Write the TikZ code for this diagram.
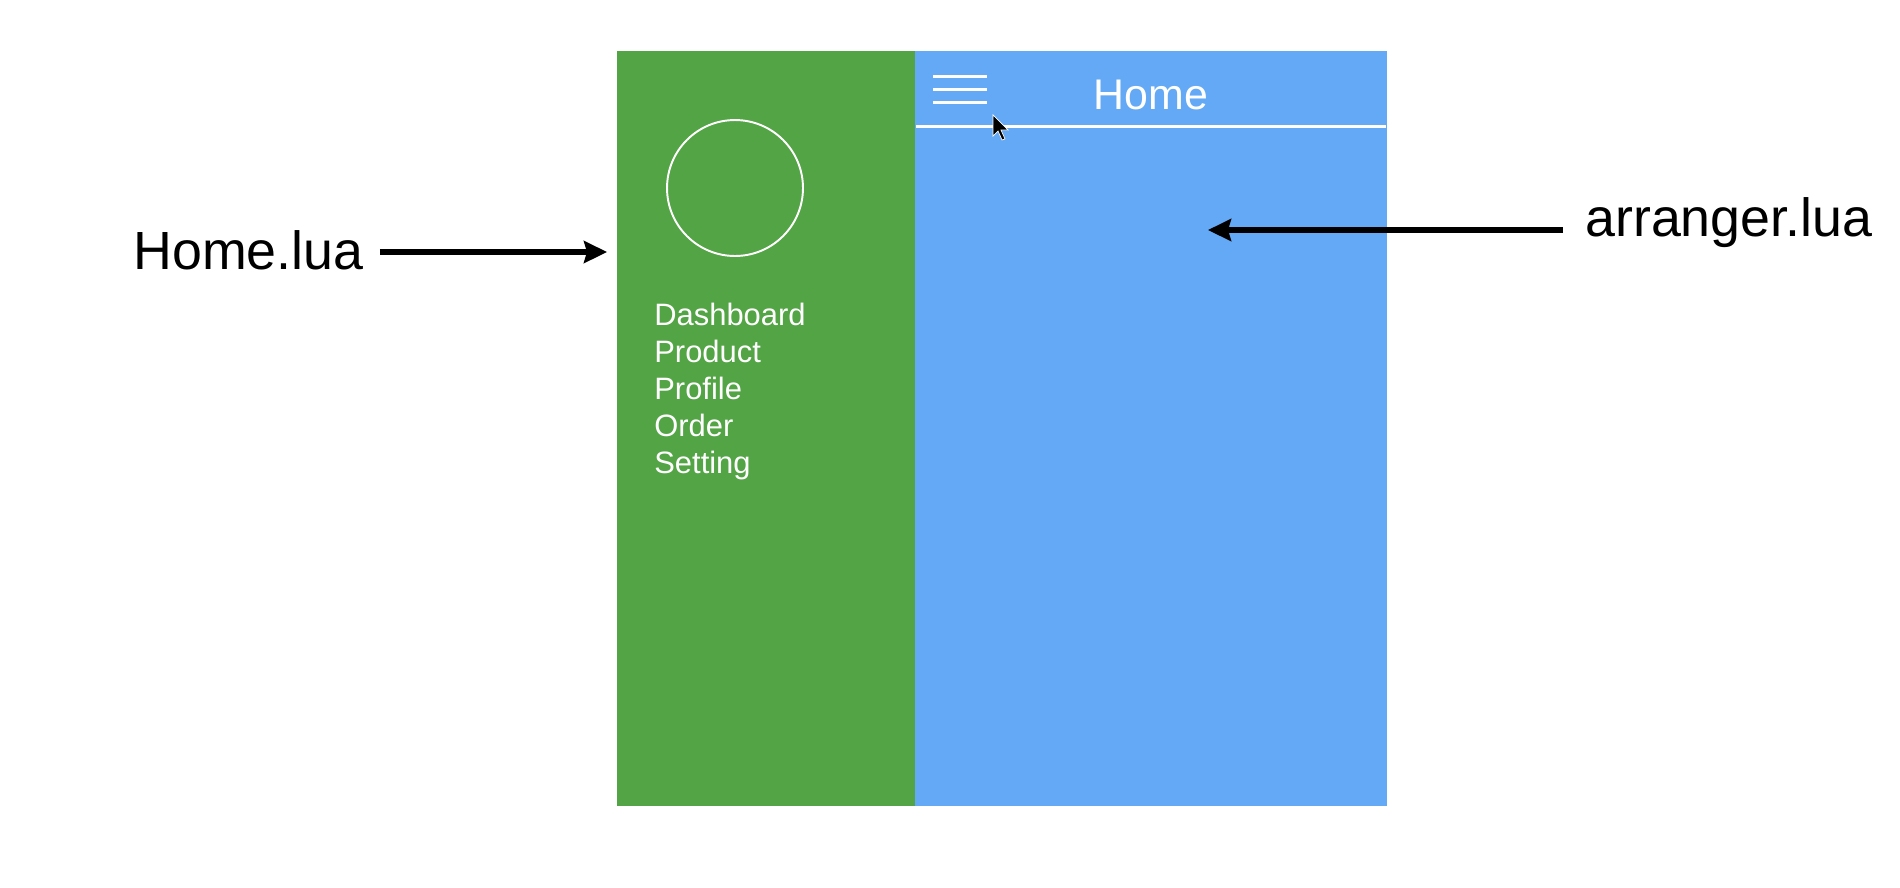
\documentclass[tikz,border=0pt]{standalone}
\usepackage{fontspec}
\setmainfont{Liberation Sans}
\usetikzlibrary{arrows.meta}
\definecolor{drawergreen}{HTML}{53A445}
\definecolor{screenblue}{HTML}{63A9F5}

\begin{document}
\begin{tikzpicture}[x=0.02cm, y=-0.02cm,
        panel/.style={rectangle, draw=none, inner sep=0, outer sep=0, minimum height=15.1cm},
        filelabel/.style={inner sep=0, font=\fontsize{30.6}{36}\selectfont},
        menuitem/.style={inner sep=0, anchor=base west, text=white, font=\fontsize{17.6}{21}\selectfont},
        bar/.style={white, line width=1.7pt},
        arrow/.style={-{Stealth[length=0.46cm, width=0.44cm, inset=0.06cm]}, line width=3.2pt}
    ]
        \useasboundingbox[fill=white] (0,0) rectangle (1900,887);

        \node[panel, fill=drawergreen, minimum width=5.96cm] (drawer) at (766,428.5) {};
        \node[panel, fill=screenblue, minimum width=9.44cm] (screen) at (1151,428.5) {};

        % drawer content
        \node[circle, draw=white, line width=1.1pt, minimum size=2.72cm, inner sep=0] (avatar) at (735,188) {};
        \node[menuitem] (dashboard) at (654,325) {Dashboard};
        \node[menuitem] (product) at (654,362) {Product};
        \node[menuitem] (profile) at (654,399) {Profile};
        \node[menuitem] (order) at (654,436) {Order};
        \node[menuitem] (setting) at (654,473) {Setting};

        % screen header
        \draw[bar] (933,76) -- (987,76);
        \draw[bar] (933,89) -- (987,89);
        \draw[bar] (933,102) -- (987,102);
        \node[inner sep=0, text=white, font=\fontsize{24.4}{29}\selectfont] (title) at (1151,95) {Home};
        \draw[bar] (916,126) -- (1386,126);
        \filldraw[fill=black, draw=white, line width=0.4pt]
            (993,115) -- (993,136) -- (998,131) -- (1002,140) -- (1005,139) -- (1001,130) -- (1008,130) -- cycle;

        % file labels
        \node[filelabel, anchor=base west] (homelua) at (133,269) {Home.lua};
        \node[filelabel, anchor=base west] (arrangerlua) at (1585,236) {arranger.lua};
        \coordinate (drawerin) at (607,252);
        \coordinate (screenin) at (1208,230);

        \draw[arrow] (homelua.east |- drawerin) ++(16,0) -- (drawerin);
        \draw[arrow] (arrangerlua.west |- screenin) ++(-22,0) -- (screenin);
    \end{tikzpicture}
\end{document}
